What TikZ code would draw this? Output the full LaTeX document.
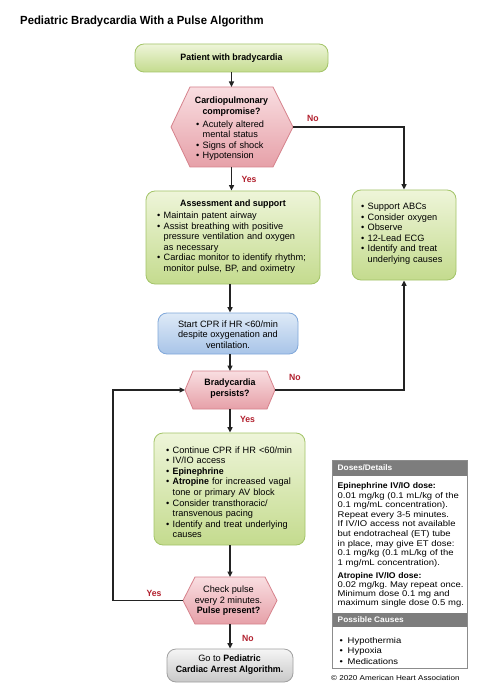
\documentclass[tikz,border=0pt]{standalone}
\usepackage{fontspec}
\setmainfont{Liberation Sans}[BoldFeatures={FakeStretch=0.96}]
\newfontfamily\dosesfont{Liberation Sans}[FakeStretch=1.14,BoldFeatures={FakeStretch=1.04}]
\usetikzlibrary{arrows.meta}
\frenchspacing
\definecolor{gtop}{RGB}{238,245,217}
\definecolor{gbot}{RGB}{196,219,142}
\definecolor{gline}{RGB}{163,196,104}
\definecolor{ptop}{RGB}{249,222,225}
\definecolor{pbot}{RGB}{230,160,168}
\definecolor{pline}{RGB}{214,130,140}
\definecolor{btop}{RGB}{222,234,247}
\definecolor{bbot}{RGB}{168,196,232}
\definecolor{bline}{RGB}{128,168,218}
\definecolor{ytop}{RGB}{245,245,245}
\definecolor{ybot}{RGB}{200,200,200}
\definecolor{yline}{RGB}{160,160,160}
\definecolor{lblred}{RGB}{178,32,46}
\definecolor{hdrgray}{RGB}{125,125,125}
\definecolor{dline}{RGB}{140,140,140}
\definecolor{arrowc}{RGB}{35,35,35}
\newcommand\bi{\par\hangindent=6.5pt\hangafter=1\noindent\makebox[6.5pt][l]{\textbullet}\ignorespaces}
\newcommand\bj{\par\hangindent=8pt\hangafter=1\noindent\makebox[8pt][l]{\textbullet}\ignorespaces}
\begin{document}
\begin{tikzpicture}[x=1pt,y=-1pt,
  gbox/.style={draw=gline, line width=0.8pt, rounded corners=9pt, top color=gtop, bottom color=gbot, inner sep=0pt},
  bbox/.style={draw=bline, line width=0.8pt, rounded corners=9pt, top color=btop, bottom color=bbot, inner sep=0pt},
  ybox/.style={draw=yline, line width=0.8pt, rounded corners=9pt, top color=ytop, bottom color=ybot, inner sep=0pt},
  hex/.style={draw=pline, line width=0.8pt, top color=ptop, bottom color=pbot},
  txt/.style={inner sep=0pt, font=\fontsize{9.2}{10.6}\selectfont},
  ltxt/.style={txt, align=left, anchor=west},
  ctxt/.style={txt, align=center},
  dtxt/.style={inner sep=0pt, align=left, anchor=west, text width=130pt},
  conn/.style={draw=arrowc, line width=1.3pt, -{Triangle[length=5.5pt,width=5pt]}},
  lbl/.style={inner sep=0pt, text=lblred, font=\bfseries\fontsize{9}{10}\selectfont},
  hdr/.style={inner sep=0pt, anchor=west, text=white, font=\dosesfont\bfseries\fontsize{8}{9}\selectfont}
]
\useasboundingbox (0,0) rectangle (493,700);
\fill[white] (0,0) rectangle (493,700);

% title
\node[inner sep=0pt, anchor=west, font=\bfseries\fontsize{11.8}{13}\selectfont] (title) at (20,21) {Pediatric Bradycardia With a Pulse Algorithm};

% patient
\node[gbox, minimum width=193pt, minimum height=28pt] (patient) at (231.5,58) {};
\node[ctxt, font=\bfseries\fontsize{9.2}{10.6}\selectfont] (patientt) at (231.5,58) {Patient with bradycardia};

% hexagon 1
\coordinate (h1W) at (171,127);
\coordinate (h1E) at (293,127);
\coordinate (h1N) at (231.5,87);
\coordinate (h1S) at (231.5,167);
\path[hex] (h1W) -- (190,87) -- (273,87) -- (h1E) -- (273,167) -- (190,167) -- cycle;
\node[ctxt, font=\bfseries\fontsize{9.2}{10.6}\selectfont] (h1t) at (231.5,106.5) {Cardiopulmonary\\compromise?};
\node[ltxt, text width=92pt] (h1l) at (196,138.7) {\bi Acutely altered\newline mental status\bi Signs of shock\bi Hypotension\par};

% assessment
\node[gbox, minimum width=174pt, minimum height=93pt] (assess) at (233,237.5) {};
\node[ctxt, font=\bfseries\fontsize{9.2}{10.6}\selectfont] (assesst) at (233,204) {Assessment and support};
\node[ltxt, text width=165pt] (assessl) at (157,240.7) {\bi Maintain patent airway\bi Assist breathing with positive\newline pressure ventilation and oxygen\newline as necessary\bi Cardiac monitor to identify rhythm;\newline monitor pulse, BP, and oximetry\par};

% support
\node[gbox, minimum width=104pt, minimum height=90pt] (support) at (404,235) {};
\node[ltxt, text width=95pt] (supportl) at (361,231.7) {\bi Support ABCs\bi Consider oxygen\bi Observe\bi 12-Lead ECG\bi Identify and treat\newline underlying causes\par};

% CPR box
\node[bbox, minimum width=140pt, minimum height=41pt] (cpr) at (228,333.5) {};
\node[ctxt] (cprt) at (228,334.5) {Start CPR if HR <60/min\\despite oxygenation and\\ventilation.};

% hexagon 2
\coordinate (h2W) at (185,390);
\coordinate (h2E) at (275,390);
\coordinate (h2N) at (230,371);
\coordinate (h2S) at (230,409);
\path[hex] (h2W) -- (193,371) -- (267,371) -- (h2E) -- (267,409) -- (193,409) -- cycle;
\node[ctxt, font=\bfseries\fontsize{9.2}{10.6}\selectfont] (h2t) at (230,388.5) {Bradycardia\\persists?};

% care box
\node[gbox, minimum width=151pt, minimum height=112pt] (care) at (229.5,489) {};
\node[ltxt, text width=140pt] (carel) at (166,490.2) {\bi Continue CPR if HR <60/min\bi IV/IO access\bi \textbf{Epinephrine}\bi \textbf{Atropine} for increased vagal\newline tone or primary AV block\bi Consider transthoracic/\newline transvenous pacing\bi Identify and treat underlying\newline causes\par};

% hexagon 3
\coordinate (h3W) at (183,600.5);
\coordinate (h3E) at (277,600.5);
\coordinate (h3N) at (230,577);
\coordinate (h3S) at (230,624);
\path[hex] (h3W) -- (195,577) -- (265,577) -- (h3E) -- (265,624) -- (195,624) -- cycle;
\node[ctxt] (h3t) at (228.5,601) {Check pulse\\every 2 minutes.\\\textbf{Pulse present?}};

% arrest box
\node[ybox, minimum width=126pt, minimum height=33pt] (arrest) at (230,665.5) {};
\node[ctxt] (arrestt) at (229.5,664.5) {Go to \textbf{Pediatric}\\\textbf{Cardiac Arrest Algorithm.}};

% doses box
\draw[dline, line width=0.8pt, fill=white] (332,460) rectangle (467,668);
\fill[hdrgray] (332,460) rectangle (467,475.5);
\fill[hdrgray] (332,612.5) rectangle (467,627);
\draw[dline, line width=0.8pt] (332,460) rectangle (467,668);
\node[hdr] (doseh) at (337.5,468) {Doses/Details};
\node[dtxt, font=\dosesfont\fontsize{8.3}{9.6}\selectfont] (epi) at (337.5,524.7) {\textbf{Epinephrine IV/IO dose:}\\0.01 mg/kg (0.1 mL/kg of the\\0.1 mg/mL concentration).\\Repeat every 3-5 minutes.\\If IV/IO access not available\\but endotracheal (ET) tube\\in place, may give ET dose:\\0.1 mg/kg (0.1 mL/kg of the\\1 mg/mL concentration).};
\node[dtxt, font=\dosesfont\fontsize{8.3}{9.1}\selectfont] (atro) at (337.5,589.7) {\textbf{Atropine IV/IO dose:}\\0.02 mg/kg. May repeat once.\\Minimum dose 0.1 mg and\\maximum single dose 0.5 mg.};
\node[hdr] (causeh) at (337.5,620) {Possible Causes};
\node[dtxt, text width=110pt, font=\dosesfont\fontsize{8.3}{10.5}\selectfont] (causes) at (339.5,648.7) {\bj Hypothermia\bj Hypoxia\bj Medications\par};
\node[inner sep=0pt, anchor=west, font=\dosesfont\fontsize{7.1}{8}\selectfont] (copy) at (331,677.5) {© 2020 American Heart Association};

% connectors
\coordinate (mx) at (230,0);
\coordinate (loopA) at (113,600.5);
\coordinate (loopB) at (113,390);
\draw[conn] (patient) -- (h1N);
\draw[conn] (h1S) -- (h1S |- assess.north);
\draw[conn] (h1E) -| (support.north);
\draw[conn] (assess.south -| mx) -- (cpr.north -| mx);
\draw[conn] (cpr.south -| mx) -- (h2N);
\draw[conn] (h2E) -| (support.south);
\draw[conn] (h2S) -- (care.north -| mx);
\draw[conn] (care.south -| mx) -- (h3N);
\draw[conn] (h3W) -- (loopA) -- (loopB) -- (h2W);
\draw[conn] (h3S) -- (arrest.north -| mx);

% labels
\node[lbl] (no1) at (313,118) {No};
\node[lbl] (yes1) at (249,179) {Yes};
\node[lbl] (no2) at (295,377) {No};
\node[lbl] (yes2) at (247.5,419) {Yes};
\node[lbl] (yes3) at (154,593) {Yes};
\node[lbl] (no3) at (248,638) {No};
\end{tikzpicture}
\end{document}
